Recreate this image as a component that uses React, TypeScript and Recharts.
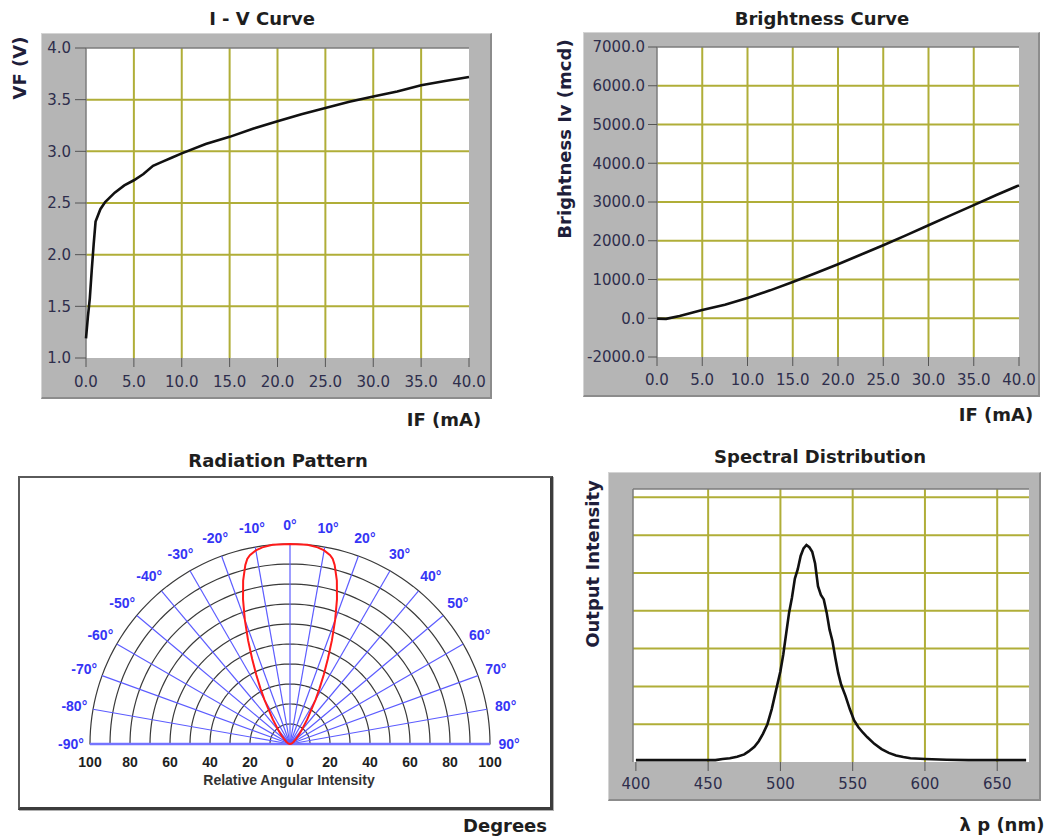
import React from 'react';
import {
  LineChart, Line, XAxis, YAxis, CartesianGrid, ReferenceLine,
  RadarChart, Radar, PolarGrid, PolarAngleAxis, PolarRadiusAxis,
} from 'recharts';

// ---------- I-V curve ----------
const ivCurrent = [0, 0.2, 0.4, 0.6, 0.8, 1.0, 1.5, 2, 3, 4, 5, 6, 7, 8, 9, 10, 12.5, 15, 17.5, 20, 22.5, 25, 27.5, 30, 32.5, 35, 37.5, 40];
const ivVoltage = [1.19, 1.4, 1.58, 1.85, 2.1, 2.32, 2.44, 2.51, 2.6, 2.67, 2.72, 2.78, 2.86, 2.9, 2.94, 2.98, 3.07, 3.14, 3.22, 3.29, 3.36, 3.42, 3.48, 3.53, 3.58, 3.64, 3.68, 3.72];
const ivXTicks = [0, 5, 10, 15, 20, 25, 30, 35, 40];
const ivYTicks = [1, 1.5, 2, 2.5, 3, 3.5, 4];
const ivXGrid = [5, 10, 15, 20, 25, 30, 35];
const ivYGrid = [1.5, 2, 2.5, 3, 3.5];

// ---------- Brightness curve ----------
const brCurrent = [0, 1, 2.5, 5, 7.5, 10, 12.5, 15, 17.5, 20, 22.5, 25, 27.5, 30, 32.5, 35, 37.5, 40];
const brValue = [-10, -15, 60, 210, 350, 520, 720, 935, 1160, 1395, 1640, 1885, 2140, 2400, 2660, 2920, 3180, 3430];
const brXTicks = [0, 5, 10, 15, 20, 25, 30, 35, 40];
const brYTicks = [-1000, 0, 1000, 2000, 3000, 4000, 5000, 6000, 7000];
const brYTickLabels = ['-2000.0', '0.0', '1000.0', '2000.0', '3000.0', '4000.0', '5000.0', '6000.0', '7000.0'];
const brXGrid = [5, 10, 15, 20, 25, 30, 35];
const brYGrid = [0, 1000, 2000, 3000, 4000, 5000, 6000];

// ---------- Spectral distribution ----------
const spWave = [400, 420, 440, 455, 460, 465, 470, 475, 478, 482, 485, 488, 491, 494, 497, 500, 502, 504, 506, 508, 510, 512, 514, 516, 518, 520, 522, 524, 526, 528, 530, 532, 534, 536, 538, 540, 542, 545, 548, 551, 554, 557, 560, 565, 570, 575, 580, 585, 590, 600, 615, 630, 650, 670];
const spIntensity = [0.05, 0.05, 0.05, 0.05, 0.08, 0.1, 0.14, 0.2, 0.28, 0.4, 0.55, 0.75, 1.0, 1.4, 1.9, 2.4, 2.85, 3.4, 3.95, 4.35, 4.85, 5.1, 5.45, 5.65, 5.74, 5.68, 5.56, 5.25, 4.65, 4.42, 4.3, 3.95, 3.5, 3.2, 2.75, 2.35, 2.05, 1.75, 1.4, 1.1, 0.92, 0.78, 0.66, 0.48, 0.34, 0.24, 0.17, 0.13, 0.1, 0.08, 0.06, 0.05, 0.05, 0.05];
const spXTicks = [400, 450, 500, 550, 600, 650];
const spXGrid = [450, 500, 550, 600, 650];
const spYGrid = [1, 2, 3, 4, 5, 6, 7];

// ---------- Radiation pattern ----------
const radAngle = [-90, -80, -70, -60, -50, -45, -40, -35, -30, -28, -26, -24, -22, -20, -18, -16, -15, -14, -13, -12, -10, -8, -5, 0, 5, 8, 10, 12, 13, 14, 15, 16, 18, 20, 22, 24, 26, 28, 30, 35, 40, 45, 50, 60, 70, 80, 90];
const radIntensity = [0, 0.5, 1, 2, 4, 6, 9, 15, 25.5, 31.5, 38.5, 46.5, 56, 66, 76, 85, 88.5, 92.3, 95, 96.5, 98.3, 99.3, 100, 100, 100, 99.3, 98.3, 96.5, 95, 92.3, 88.5, 85, 76, 66, 56, 46.5, 38.5, 31.5, 25.5, 15, 9, 6, 4, 2, 1, 0.5, 0];
const radAngleTicks = [-90, -80, -70, -60, -50, -40, -30, -20, -10, 0, 10, 20, 30, 40, 50, 60, 70, 80, 90];
const radRings = [10, 20, 30, 40, 50, 60, 70, 80, 90, 100];

const ivData = ivCurrent.map((c, i) => ({ c, v: ivVoltage[i] }));
const brData = brCurrent.map((c, i) => ({ c, v: brValue[i] }));
const spData = spWave.map((w, i) => ({ w, v: spIntensity[i] }));
const radData = radAngle.map((a, i) => ({ angle: a, intensity: radIntensity[i] }));

const FONT = '"DejaVu Sans", Verdana, sans-serif';
const RFONT = '"Liberation Sans", Arial, sans-serif';
const GRID = '#b0ae38';
const EDGE = '#7c7c7c';
const TICK = { fontSize: 15, fill: '#2e2e4c', fontFamily: FONT };

const R_CX = 272;
const R_CY = 268;
const R_OUT = 200;

const Text = ({ x, y, text, size = 18, rotate = false, color = '#1e1e1e' }: any) => (
  <div
    style={{
      position: 'absolute', left: x, top: y,
      transform: `translate(-50%, -50%)${rotate ? ' rotate(-90deg)' : ''}`,
      whiteSpace: 'nowrap', fontFamily: FONT, fontWeight: 'bold', fontSize: size,
      color, lineHeight: 1,
    }}
  >
    {text}
  </div>
);

const frame = (left: number, top: number, width: number, height: number): React.CSSProperties => ({
  position: 'absolute', left, top, width, height, boxSizing: 'border-box',
  background: '#b5b5b5',
  borderTop: '1px solid #d4d4d4', borderLeft: '1px solid #d4d4d4',
  borderRight: '2px solid #8c8c8c', borderBottom: '2px solid #8c8c8c',
});

const AngleTick = (props: any) => {
  const { x, y, payload } = props;
  return (
    <text x={x} y={y} dy={5} textAnchor="middle" fill="#3535f5" fontFamily={RFONT} fontWeight="bold" fontSize={14}>
      {`${payload.value}°`}
    </text>
  );
};

const RadiusTick = (props: any) => {
  const { x, y, payload } = props;
  const mirror = 2 * R_CX - x;
  const common = { y: y + 23, textAnchor: 'middle' as const, fill: '#1e1e1e', fontFamily: RFONT, fontWeight: 'bold' as const, fontSize: 14 };
  return (
    <g>
      <text x={x} {...common}>{payload.value}</text>
      {payload.value !== 0 && <text x={mirror} {...common}>{payload.value}</text>}
    </g>
  );
};

export default function App() {
  return (
    <div style={{ position: 'absolute', left: 0, top: 0, width: 1047, height: 836, background: '#fff', overflow: 'hidden' }}>
      {/* frames */}
      <div style={frame(41, 33, 451, 366)} />
      <div style={frame(583, 32, 457, 365)} />
      <div style={frame(608, 472, 433, 329)} />
      <div style={{
        position: 'absolute', left: 18, top: 476, width: 535, height: 334, boxSizing: 'border-box', background: '#fff',
        borderTop: '2px solid #5a5a5a', borderLeft: '2px solid #5a5a5a', borderRight: '3px solid #3c3c3c', borderBottom: '3px solid #3c3c3c',
        boxShadow: '1px 1px 0 #b0b0b0',
      }} />

      {/* I-V curve */}
      <div style={{ position: 'absolute', left: 0, top: 0 }}>
        <LineChart width={520} height={400} data={ivData} margin={{ top: 48, right: 51, bottom: 2, left: 0 }}>
          <CartesianGrid fill="#ffffff" horizontal={false} vertical={false} stroke="none" />
          <XAxis dataKey="c" type="number" domain={[0, 40]} ticks={ivXTicks} interval={0} height={40}
            axisLine={false} tickLine={{ stroke: '#555' }} tickSize={9} tickMargin={9}
            tick={TICK} tickFormatter={(v: number) => v.toFixed(1)} />
          <YAxis type="number" domain={[1, 4]} ticks={ivYTicks} interval={0} width={86}
            axisLine={false} tickLine={{ stroke: '#555' }} tickSize={11} tickMargin={4}
            tick={TICK} tickFormatter={(v: number) => v.toFixed(1)} />
          {ivXGrid.map((g) => <ReferenceLine key={`x${g}`} x={g} stroke={GRID} strokeWidth={2} />)}
          {ivYGrid.map((g) => <ReferenceLine key={`y${g}`} y={g} stroke={GRID} strokeWidth={2} />)}
          <ReferenceLine y={4} stroke={EDGE} strokeWidth={1.5} />
          <ReferenceLine x={0} stroke={EDGE} strokeWidth={1.5} />
          <Line dataKey="v" type="linear" stroke="#111" strokeWidth={2.6} dot={false} isAnimationActive={false} />
        </LineChart>
      </div>

      {/* Brightness curve */}
      <div style={{ position: 'absolute', left: 520, top: 0 }}>
        <LineChart width={527} height={400} data={brData} margin={{ top: 47, right: 28, bottom: 2, left: 0 }}>
          <CartesianGrid fill="#ffffff" horizontal={false} vertical={false} stroke="none" />
          <XAxis dataKey="c" type="number" domain={[0, 40]} ticks={brXTicks} interval={0} height={41}
            axisLine={false} tickLine={{ stroke: '#555' }} tickSize={9} tickMargin={8}
            tick={TICK} tickFormatter={(v: number) => v.toFixed(1)} />
          <YAxis type="number" domain={[-1000, 7000]} ticks={brYTicks} interval={0} width={137}
            axisLine={false} tickLine={{ stroke: '#555' }} tickSize={9} tickMargin={3}
            tick={TICK} tickFormatter={(v: number) => brYTickLabels[brYTicks.indexOf(v)] ?? v.toFixed(1)} />
          {brXGrid.map((g) => <ReferenceLine key={`x${g}`} x={g} stroke={GRID} strokeWidth={2} />)}
          {brYGrid.map((g) => <ReferenceLine key={`y${g}`} y={g} stroke={GRID} strokeWidth={2} />)}
          <ReferenceLine y={7000} stroke={EDGE} strokeWidth={1.5} />
          <ReferenceLine x={0} stroke={EDGE} strokeWidth={1.5} />
          <Line dataKey="v" type="linear" stroke="#111" strokeWidth={2.6} dot={false} isAnimationActive={false} />
        </LineChart>
      </div>

      {/* Spectral distribution */}
      <div style={{ position: 'absolute', left: 560, top: 440 }}>
        <LineChart width={487} height={360} data={spData} margin={{ top: 49, right: 18, bottom: 2, left: 0 }}>
          <CartesianGrid fill="#ffffff" horizontal={false} vertical={false} stroke="none" />
          <XAxis dataKey="w" type="number" domain={[398, 672]} ticks={spXTicks} interval={0} height={36}
            axisLine={false} tickLine={{ stroke: '#555' }} tickSize={9} tickMargin={7}
            tick={TICK} />
          <YAxis type="number" domain={[0, 7.22]} width={73} tick={false} axisLine={false} tickLine={false} />
          {spXGrid.map((g) => <ReferenceLine key={`x${g}`} x={g} stroke={GRID} strokeWidth={2} />)}
          {spYGrid.map((g) => <ReferenceLine key={`y${g}`} y={g} stroke={GRID} strokeWidth={2} />)}
          <ReferenceLine y={7.22} stroke={EDGE} strokeWidth={1.5} />
          <ReferenceLine x={398} stroke={EDGE} strokeWidth={1.5} />
          <Line dataKey="v" type="linear" stroke="#111" strokeWidth={2.6} dot={false} isAnimationActive={false} />
        </LineChart>
      </div>

      {/* Radiation pattern */}
      <div style={{ position: 'absolute', left: 18, top: 476 }}>
        <RadarChart width={535} height={334} data={radData} cx={R_CX} cy={R_CY} innerRadius={0} outerRadius={R_OUT}
          startAngle={180} endAngle={0} margin={{ top: 0, right: 0, bottom: 0, left: 0 }}>
          <PolarGrid gridType="polygon" radialLines={false}
            polarAngles={Array.from({ length: 91 }, (_, i) => i * 2)}
            polarRadius={radRings.map((r) => (r * R_OUT) / 100)}
            stroke="#3a3a3a" strokeWidth={1.2} />
          <PolarGrid gridType="polygon" polarAngles={radAngleTicks.map((a) => 90 - a)} polarRadius={[]}
            stroke="#5c5cff" strokeWidth={1.2} />
          <PolarGrid gridType="polygon" polarAngles={[0, 180]} polarRadius={[]}
            stroke="#7474ff" strokeWidth={2.4} />
          <PolarRadiusAxis angle={0} type="number" domain={[0, 100]} tickCount={6} axisLine={false} tick={RadiusTick} />
          <PolarAngleAxis dataKey="angle" type="number" domain={[-90, 90]} ticks={radAngleTicks as any} tickCount={19}
            axisLine={false} tickLine={false} tickSize={19} tick={AngleTick} />
          <Radar dataKey="intensity" stroke="#ff1a1a" strokeWidth={2} fill="none" fillOpacity={0} dot={false} isAnimationActive={false} />
        </RadarChart>
      </div>

      {/* texts */}
      <Text x={262} y={19} text="I - V Curve" />
      <Text x={20} y={68} text="VF (V)" rotate color="#1e1e3a" />
      <Text x={444} y={420} text="IF (mA)" />

      <Text x={822} y={19} text="Brightness Curve" />
      <Text x={565} y={139} text="Brightness Iv (mcd)" rotate color="#1e1e3a" />
      <Text x={996} y={415} text="IF (mA)" />

      <Text x={278} y={461} text="Radiation Pattern" />
      <div style={{
        position: 'absolute', left: 289, top: 780, transform: 'translate(-50%, -50%)', whiteSpace: 'nowrap',
        fontFamily: RFONT, fontWeight: 'bold', fontSize: 14, color: '#333', lineHeight: 1,
      }}>Relative Angular Intensity</div>
      <Text x={505} y={826} text="Degrees" />

      <Text x={820} y={457} text="Spectral Distribution" />
      <Text x={593} y={564} text="Output Intensity" rotate color="#1e1e3a" />
      <Text x={1002} y={825} text="λ p (nm)" />
    </div>
  );
}
